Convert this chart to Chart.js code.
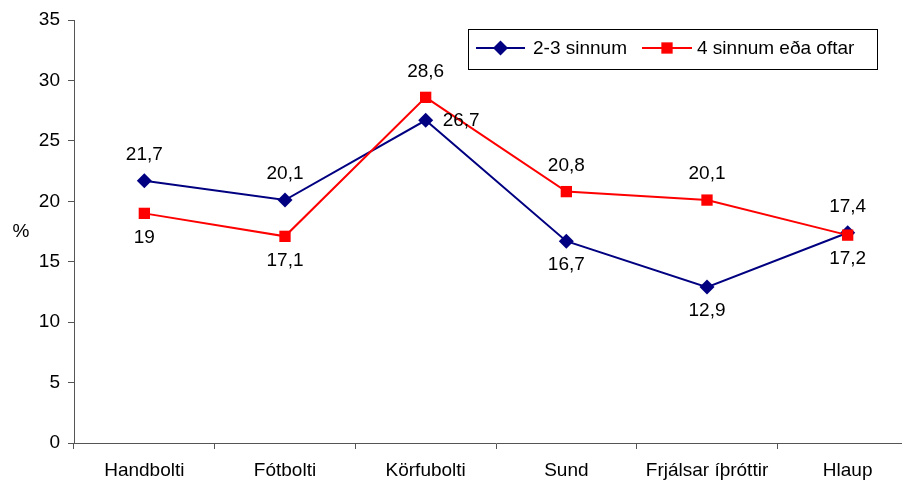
<!DOCTYPE html>
<html>
<head>
<meta charset="utf-8">
<script src="https://cdn.jsdelivr.net/npm/chart.js@4.4.1/dist/chart.umd.min.js"></script>
<style>
  html, body { margin: 0; padding: 0; background: #fff; overflow: hidden; }
  #wrap { width: 902px; height: 482px; overflow: hidden; }
</style>
</head>
<body>
<div id="wrap"><canvas id="c" width="926" height="482"></canvas></div>
<script>
var categories = ['Handbolti', 'Fótbolti', 'Körfubolti', 'Sund', 'Frjálsar íþróttir', 'Hlaup'];
var series1 = [21.7, 20.1, 26.7, 16.7, 12.9, 17.4]; // 2-3 sinnum
var series2 = [19, 17.1, 28.6, 20.8, 20.1, 17.2];   // 4 sinnum eða oftar
var seriesNames = ['2-3 sinnum', '4 sinnum eða oftar'];
var yTicks = [0, 5, 10, 15, 20, 25, 30, 35];

// where each value label sits relative to its point
var labelPos1 = ['above', 'above', 'right', 'below', 'below', 'above'];
var labelPos2 = ['below', 'below', 'above', 'above', 'above', 'below'];

var FONT = '"Liberation Sans", Arial, sans-serif';
var FSIZE = 19;
var NAVY = '#000080', RED = '#ff0000', AXIS = '#555555';

function fmt(v){ return String(v).replace('.', ','); }

var valueLabels = {
	id: 'valueLabels',
	afterDatasetsDraw: function(chart){
		var ctx = chart.ctx;
		ctx.save();
		ctx.font = FSIZE + 'px ' + FONT;
		ctx.fillStyle = '#000';
		chart.data.datasets.forEach(function(ds, di){
			var meta = chart.getDatasetMeta(di);
			meta.data.forEach(function(pt, i){
				var pos = ds.labelPos[i], x = pt.x, y = pt.y;
				ctx.textBaseline = 'middle';
				if(pos == 'right'){ ctx.textAlign = 'left'; x += 17; }
				else { ctx.textAlign = 'center'; y += (pos == 'above' ? -26 : 24); }
				ctx.fillText(fmt(ds.data[i]), x, y);
			});
		});
		ctx.restore();
	}
};

var extras = {
	id: 'extras',
	afterDraw: function(chart){
		var ctx = chart.ctx;
		ctx.save();
		ctx.font = FSIZE + 'px ' + FONT;
		ctx.fillStyle = '#000';
		ctx.textBaseline = 'middle';
		ctx.textAlign = 'center';
		ctx.fillText('%', 21, 232);

		// legend box
		ctx.fillStyle = '#fff';
		ctx.fillRect(468, 29, 409, 40);
		ctx.strokeStyle = '#000';
		ctx.lineWidth = 1;
		ctx.strokeRect(468.5, 29.5, 409, 40);
		var items = [
			{ x0: 476, x1: 525, tx: 533, color: NAVY, style: 'rectRot', r: 7.5, text: seriesNames[0] },
			{ x0: 642, x1: 692, tx: 697, color: RED, style: 'rect', r: 8, text: seriesNames[1] }
		];
		var cy = 48;
		items.forEach(function(it){
			ctx.strokeStyle = it.color;
			ctx.lineWidth = 2;
			ctx.beginPath(); ctx.moveTo(it.x0, cy); ctx.lineTo(it.x1, cy); ctx.stroke();
			ctx.fillStyle = it.color;
			Chart.helpers.drawPoint(ctx, { pointStyle: it.style, radius: it.r, rotation: 0, borderWidth: 0 }, (it.x0 + it.x1) / 2, cy);
			ctx.fillStyle = '#000';
			ctx.textAlign = 'left';
			ctx.fillText(it.text, it.tx, cy + 1);
		});
		ctx.restore();
	}
};

new Chart(document.getElementById('c').getContext('2d'), {
	type: 'line',
	data: {
		labels: categories,
		datasets: [
			{ label: seriesNames[0], data: series1, labelPos: labelPos1, order: 1,
			  borderColor: NAVY, backgroundColor: NAVY, borderWidth: 2,
			  pointStyle: 'rectRot', pointRadius: 7.5, pointBorderWidth: 0, tension: 0 },
			{ label: seriesNames[1], data: series2, labelPos: labelPos2, order: 0,
			  borderColor: RED, backgroundColor: RED, borderWidth: 2,
			  pointStyle: 'rect', pointRadius: 8, pointBorderWidth: 0, tension: 0 }
		]
	},
	options: {
		responsive: false,
		animation: false,
		events: [],
		layout: { padding: { top: 20, right: 3, left: 0, bottom: 0 } },
		plugins: { legend: { display: false }, tooltip: { enabled: false } },
		scales: {
			x: {
				offset: true,
				grid: { offset: true, drawOnChartArea: false, tickLength: 6, color: AXIS },
				border: { color: AXIS, width: 1 },
				ticks: { font: { family: FONT, size: FSIZE }, color: '#000', padding: 10, maxRotation: 0, autoSkip: false },
				afterFit: function(s){ s.height = 39; }
			},
			y: {
				min: 0, max: 35,
				afterBuildTicks: function(s){ s.ticks = yTicks.map(function(v){ return { value: v }; }); },
				grid: { drawOnChartArea: false, tickLength: 6, color: AXIS },
				border: { color: AXIS, width: 1 },
				ticks: { font: { family: FONT, size: FSIZE }, color: '#000', padding: 8 },
				afterFit: function(s){ s.width = 74; }
			}
		}
	},
	plugins: [valueLabels, extras]
});
</script>
</body>
</html>
